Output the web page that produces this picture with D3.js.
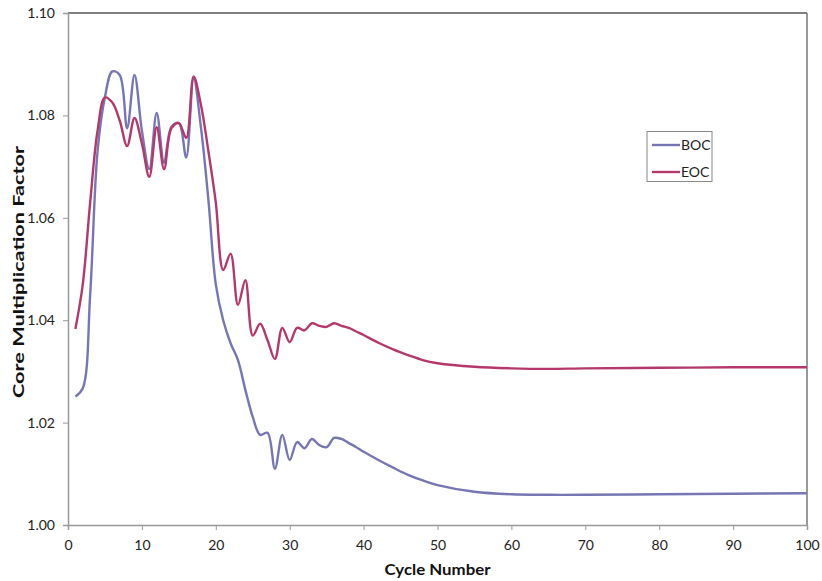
<!DOCTYPE html>
<html><head><meta charset="utf-8">
<script src="https://cdn.jsdelivr.net/npm/d3@7"></script>
<style>body{margin:0;background:#fff}svg{display:block}</style>
</head><body>
<svg id="c" width="822" height="581"></svg>
<script>
const cycles = [1,2,3,4,5,6,7,8,9,10,11,12,13,14,15,16,17,18,19,20,21,22,23,24,25,26,27,28,29,30,31,32,33,34,35,36,37,38,39,40,42,44,46,48,50,55,60,65,70,80,90,100];
const boc = [1.0251,1.0267,1.0450,1.0730,1.0836,1.0886,1.0879,1.0775,1.0879,1.0770,1.0695,1.0805,1.0708,1.0778,1.0785,1.0718,1.0872,1.0775,1.0635,1.0470,1.0400,1.0355,1.0322,1.0264,1.0211,1.0176,1.0180,1.0110,1.0176,1.0127,1.0162,1.0150,1.0168,1.0156,1.0152,1.0170,1.0168,1.0160,1.0152,1.0143,1.0127,1.0112,1.0098,1.0087,1.0078,1.0065,1.0060,1.0059,1.0059,1.0060,1.0061,1.0062];
const eoc = [1.0383,1.0470,1.0630,1.0770,1.0835,1.0825,1.0790,1.0740,1.0795,1.0745,1.0680,1.0777,1.0695,1.0775,1.0785,1.0756,1.0876,1.0820,1.0730,1.0630,1.0498,1.0530,1.0430,1.0478,1.0370,1.0393,1.0361,1.0324,1.0385,1.0357,1.0385,1.0380,1.0394,1.0389,1.0387,1.0394,1.0389,1.0385,1.0378,1.0371,1.0356,1.0343,1.0332,1.0322,1.0316,1.0309,1.0306,1.0305,1.0306,1.0307,1.0308,1.0308];
const seriesNames = ["BOC","EOC"];
const seriesColors = ["#7676b4","#b5386c"];
const xTicks = [0,10,20,30,40,50,60,70,80,90,100];
const yTicks = [1.00,1.02,1.04,1.06,1.08,1.10];

const svg = d3.select("#c");
const L = 68, R = 807, T = 13, B = 525;
const x = d3.scaleLinear().domain([0,100]).range([L,R]);
const y = d3.scaleLinear().domain([1.00,1.10]).range([B,T]);
const font = "Lato, 'Open Sans', sans-serif";

svg.append("line").attr("x1",L).attr("x2",R).attr("y1",T).attr("y2",T).attr("stroke","#555").attr("stroke-width",1.5);
svg.append("line").attr("x1",R).attr("x2",R).attr("y1",T).attr("y2",B).attr("stroke","#555").attr("stroke-width",1.2);

const yAxis = svg.append("g").attr("transform",`translate(${L},0)`)
  .call(d3.axisLeft(y).tickValues(yTicks).tickFormat(d3.format(".2f")).tickSize(5).tickPadding(8));
const xAxis = svg.append("g").attr("transform",`translate(0,${B})`)
  .call(d3.axisBottom(x).tickValues(xTicks).tickSize(5).tickPadding(10));
[yAxis,xAxis].forEach(g=>{
  g.select(".domain").attr("stroke","#999").attr("stroke-width",1.5);
  g.selectAll(".tick line").attr("stroke","#999");
  g.selectAll("text").attr("font-family",font).attr("font-size",14).attr("fill","#222");
});

const line = d3.line().x((d,i)=>x(cycles[i])).y(d=>y(d)).curve(d3.curveCatmullRom.alpha(0.5));
[boc,eoc].forEach((s,k)=>{
  svg.append("path").datum(s).attr("d",line).attr("fill","none")
    .attr("stroke",seriesColors[k]).attr("stroke-width",2.4);
});

svg.append("text").attr("x",(L+R)/2).attr("y",575).attr("text-anchor","middle")
  .attr("font-family",font).attr("font-weight","bold").attr("font-size",16).attr("fill","#111")
  .attr("textLength",106).attr("lengthAdjust","spacingAndGlyphs").text("Cycle Number");
svg.append("text").attr("transform",`translate(24,272) rotate(-90)`).attr("text-anchor","middle")
  .attr("font-family",font).attr("font-weight","bold").attr("font-size",16).attr("fill","#111")
  .attr("textLength",252).attr("lengthAdjust","spacingAndGlyphs").text("Core Multiplication Factor");

const lg = svg.append("g");
lg.append("rect").attr("x",647).attr("y",131.5).attr("width",65).attr("height",50).attr("fill","#fff").attr("stroke","#888").attr("stroke-width",1);
seriesNames.forEach((n,k)=>{
  const yy = 145 + k*27;
  lg.append("line").attr("x1",652).attr("x2",680).attr("y1",yy).attr("y2",yy).attr("stroke",seriesColors[k]).attr("stroke-width",2.4);
  lg.append("text").attr("x",681).attr("y",yy+5).attr("font-family",font).attr("font-size",14).attr("fill","#222").text(n);
});
</script>
</body></html>
